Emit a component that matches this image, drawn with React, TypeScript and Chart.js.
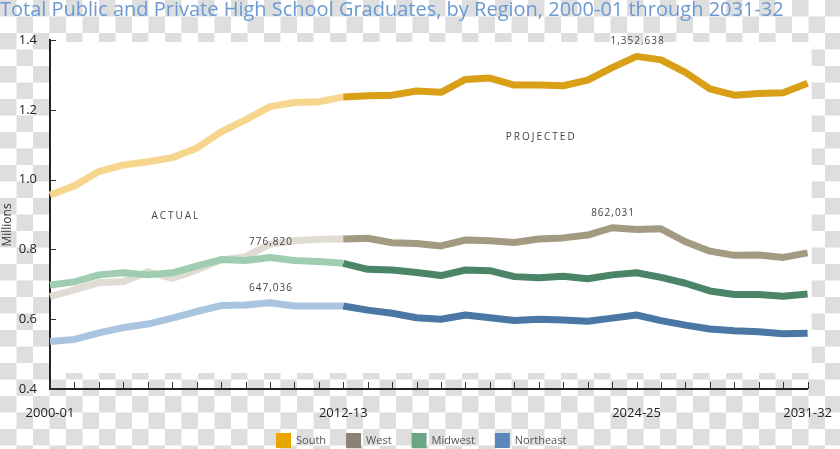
import React, { useEffect, useRef } from "react";
import { Chart, registerables } from "chart.js";

Chart.register(...registerables);

const categories = [
  "2000-01", "2001-02", "2002-03", "2003-04", "2004-05", "2005-06", "2006-07", "2007-08",
  "2008-09", "2009-10", "2010-11", "2011-12", "2012-13", "2013-14", "2014-15", "2015-16",
  "2016-17", "2017-18", "2018-19", "2019-20", "2020-21", "2021-22", "2022-23", "2023-24",
  "2024-25", "2025-26", "2026-27", "2027-28", "2028-29", "2029-30", "2030-31", "2031-32",
];
const shownTickLabels = ["2000-01", "2012-13", "2024-25", "2031-32"];
const projectionStart = "2012-13";

const regions = ["South", "West", "Midwest", "Northeast"];

// Millions of graduates
const southActual = [0.956, 0.982, 1.023, 1.042, 1.051, 1.063, 1.09, 1.137, 1.171, 1.209, 1.221, 1.223, 1.237];
const southProjected = [1.237, 1.24, 1.242, 1.254, 1.25, 1.287, 1.291, 1.271, 1.271, 1.269, 1.285, 1.321, 1.353, 1.343, 1.307, 1.26, 1.242, 1.247, 1.249, 1.276];
const westActual = [0.665, 0.684, 0.705, 0.707, 0.736, 0.717, 0.741, 0.77, 0.779, 0.815, 0.825, 0.829, 0.83];
const westProjected = [0.83, 0.832, 0.819, 0.817, 0.81, 0.827, 0.825, 0.82, 0.83, 0.833, 0.841, 0.862, 0.857, 0.859, 0.822, 0.795, 0.783, 0.784, 0.777, 0.79];
const midwestActual = [0.698, 0.707, 0.727, 0.733, 0.727, 0.733, 0.752, 0.771, 0.768, 0.777, 0.768, 0.765, 0.76];
const midwestProjected = [0.76, 0.743, 0.741, 0.734, 0.725, 0.741, 0.739, 0.722, 0.719, 0.723, 0.716, 0.727, 0.733, 0.72, 0.703, 0.681, 0.671, 0.671, 0.666, 0.672];
const northeastActual = [0.536, 0.542, 0.561, 0.576, 0.586, 0.603, 0.622, 0.639, 0.641, 0.647, 0.638, 0.638, 0.638];
const northeastProjected = [0.638, 0.626, 0.617, 0.604, 0.6, 0.612, 0.604, 0.596, 0.6, 0.598, 0.594, 0.603, 0.612, 0.596, 0.583, 0.572, 0.567, 0.564, 0.558, 0.56];

const actualColors = ["#f6d68c", "#e0dcd3", "#a0cdb2", "#a9c4de"];
const projectedColors = ["#d99f17", "#a39a82", "#4b8567", "#4a77a4"];
const legendColors = ["#e8a700", "#8b8275", "#6aa585", "#5a88bd"];

const peakLabels = ["1,352,638", "862,031", "776,820", "647,036"];
const peakRegion = ["South", "West", "Midwest", "Northeast"];
const peakCategory = ["2024-25", "2023-24", "2009-10", "2009-10"];

const periodLabels = ["ACTUAL", "PROJECTED"];
const periodLabelX = [5.15, 20.1];
const periodLabelY = [0.896, 1.122];

const titleText = "Total Public and Private High School Graduates, by Region, 2000-01 through 2031-32";
const yAxisTitle = "Millions";

const FONT = "'Open Sans', 'Noto Sans', sans-serif";

function place(values: number[], startLabel: string): (number | null)[] {
  const start = categories.indexOf(startLabel);
  return categories.map((_, i) => (i >= start && i - start < values.length ? values[i - start] : null));
}

const actualSeries = [southActual, westActual, midwestActual, northeastActual];
const projectedSeries = [southProjected, westProjected, midwestProjected, northeastProjected];

export default function App() {
  const ref = useRef<HTMLCanvasElement | null>(null);

  useEffect(() => {
    if (!ref.current) return;
    const datasets: any[] = [];
    regions.forEach((r, i) => {
      datasets.push({
        label: r + " (actual)",
        data: place(actualSeries[i], categories[0]),
        borderColor: actualColors[i],
        backgroundColor: actualColors[i],
        borderWidth: 7,
        pointRadius: 0,
        borderJoinStyle: "round",
        tension: 0,
        order: 10 + (3 - i),
        spanGaps: false,
      });
      datasets.push({
        label: r,
        data: place(projectedSeries[i], projectionStart),
        borderColor: projectedColors[i],
        backgroundColor: projectedColors[i],
        borderWidth: 7,
        pointRadius: 0,
        borderJoinStyle: "round",
        tension: 0,
        order: 3 - i,
        spanGaps: false,
      });
    });

    const decor = {
      id: "decor",
      beforeDraw(chart: any) {
        const { ctx, chartArea, width, height } = chart;
        ctx.save();
        ctx.fillStyle = "#ffffff";
        ctx.fillRect(0, 0, width, height);
        const sq = 16.5;
        ctx.fillStyle = "#dedede";
        for (let r = 0; r * sq < height; r++) {
          for (let c = 0; c * sq < width; c++) {
            if ((r + c) % 2 === 0) ctx.fillRect(c * sq, r * sq, sq, sq);
          }
        }
        ctx.fillStyle = "#ffffff";
        ctx.fillRect(chartArea.left, chartArea.top + 2, chartArea.right - chartArea.left + 4, chartArea.bottom - chartArea.top - 18);
        ctx.restore();
      },
      afterDraw(chart: any) {
        const { ctx, chartArea } = chart;
        const xs = chart.scales.x;
        const ys = chart.scales.y;
        ctx.save();
        // tick marks
        ctx.strokeStyle = "#333";
        ctx.lineWidth = 1;
        categories.forEach((_, i) => {
          const x = Math.round(xs.getPixelForValue(i)) + 0.5;
          ctx.beginPath();
          ctx.moveTo(x, chartArea.bottom);
          ctx.lineTo(x, chartArea.bottom - 7);
          ctx.stroke();
        });
        ys.ticks.forEach((t: any) => {
          const y = Math.round(ys.getPixelForValue(t.value)) + 0.5;
          ctx.beginPath();
          ctx.moveTo(chartArea.left, y);
          ctx.lineTo(chartArea.left + 6, y);
          ctx.stroke();
        });

        // title
        ctx.fillStyle = "#6b9ad3";
        ctx.font = `20px ${FONT}`;
        ctx.textAlign = "left";
        ctx.textBaseline = "middle";
        ctx.fillText(titleText, 0, 10);

        // y axis title
        ctx.save();
        ctx.translate(8, ys.getPixelForValue(0.87));
        ctx.rotate(-Math.PI / 2);
        ctx.fillStyle = "#333";
        ctx.font = `12px ${FONT}`;
        ctx.textAlign = "center";
        ctx.textBaseline = "middle";
        ctx.fillText(yAxisTitle, 0, 0);
        ctx.restore();

        // annotations
        ctx.fillStyle = "#444";
        ctx.font = `10px ${FONT}`;
        (ctx as any).letterSpacing = "1px";
        ctx.textAlign = "center";
        ctx.textBaseline = "middle";
        peakLabels.forEach((lab, k) => {
          const ri = regions.indexOf(peakRegion[k]);
          const ci = categories.indexOf(peakCategory[k]);
          const all = [...actualSeries[ri], ...projectedSeries[ri].slice(1)];
          const v = all[ci];
          const x = xs.getPixelForValue(ci);
          const y = ys.getPixelForValue(v);
          ctx.fillText(lab, x + 1, y - 15);
        });
        (ctx as any).letterSpacing = "2px";
        periodLabels.forEach((lab, k) => {
          ctx.fillText(lab, xs.getPixelForValue(periodLabelX[k]), ys.getPixelForValue(periodLabelY[k]));
        });
        (ctx as any).letterSpacing = "0px";

        // legend
        ctx.font = `11px ${FONT}`;
        ctx.textAlign = "left";
        ctx.textBaseline = "middle";
        let lx = 276;
        const ly = 433;
        regions.forEach((r, i) => {
          ctx.fillStyle = legendColors[i];
          ctx.fillRect(lx, ly, 15, 15);
          ctx.fillStyle = "#555";
          ctx.fillText(r, lx + 20, ly + 8);
          lx += 20 + ctx.measureText(r).width + 20;
        });
        ctx.restore();
      },
    };

    const chart = new Chart(ref.current, {
      type: "line",
      data: { labels: categories, datasets },
      options: {
        responsive: false,
        animation: false,
        layout: { padding: { top: 40, right: 26, left: 0, bottom: 0 } },
        plugins: { legend: { display: false }, tooltip: { enabled: false }, title: { display: false } },
        scales: {
          x: {
            type: "category",
            offset: false,
            grid: { display: false },
            border: { display: true, color: "#222", width: 2 },
            ticks: {
              autoSkip: false,
              maxRotation: 0,
              minRotation: 0,
              padding: 8,
              color: "#222",
              font: { family: FONT, size: 13 },
              callback: (_v: any, i: number) => (shownTickLabels.includes(categories[i]) ? categories[i] : ""),
            },
            afterFit: (s: any) => {
              s.height = 60;
            },
          },
          y: {
            min: 0.4,
            max: 1.4,
            grid: { display: false },
            border: { display: true, color: "#222", width: 2 },
            ticks: {
              stepSize: 0.2,
              padding: 5,
              color: "#222",
              font: { family: FONT, size: 13 },
              callback: (v: any) => Number(v).toFixed(1),
            },
            afterFit: (s: any) => {
              s.width = 50;
            },
          },
        },
      },
      plugins: [decor],
    });
    return () => chart.destroy();
  }, []);

  return (
    <div style={{ position: "fixed", left: 0, top: 0, width: 840, height: 449 }}>
      <canvas ref={ref} width={840} height={449} style={{ display: "block", width: 840, height: 449 }} />
    </div>
  );
}
